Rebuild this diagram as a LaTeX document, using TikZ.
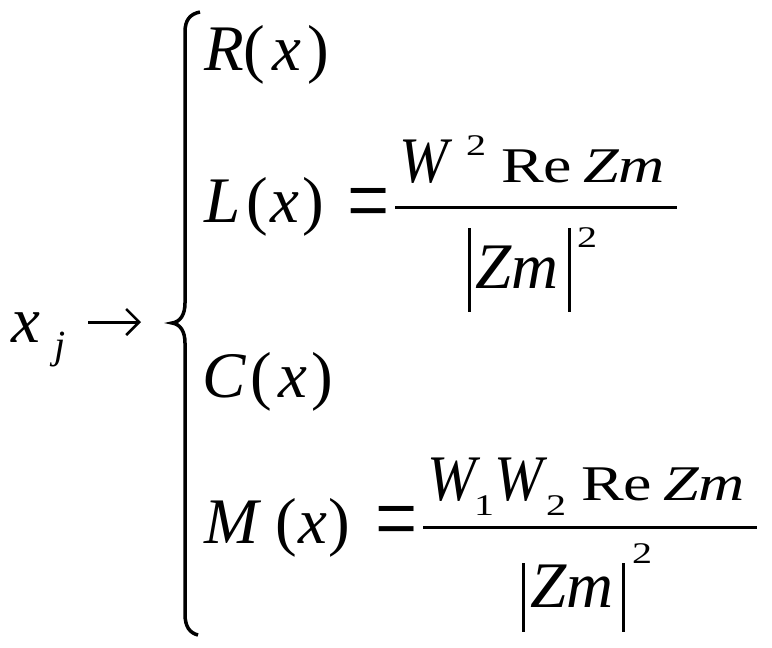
\documentclass[tikz,border=0pt]{standalone}
\usepackage{fontspec}
\setmainfont{Liberation Serif}
\usepackage{graphicx}
\usetikzlibrary{arrows.meta}

\newcommand{\digit}[1]{\scalebox{1}[0.75]{#1}}
\newcommand{\wide}[1]{\scalebox{1}[0.78]{#1}}
\newcommand{\narrowW}{\scalebox{0.9}[1]{\textit{W}}}

\begin{document}
\begin{tikzpicture}[x=1pt,y=-1pt,
    txt/.style={inner sep=0pt,outer sep=0pt,anchor=base west,font=\fontsize{65}{78}\selectfont},
    idx/.style={txt,font=\fontsize{40}{48}\selectfont},
    num/.style={txt,font=\fontsize{64}{77}\selectfont},
    bar/.style={line width=3pt},
    fracrule/.style={line width=3pt}]
  \useasboundingbox (0,0) rectangle (772,648);
  % left part
  \node[txt] (x) at (12,342) {\textit{x}};
  \node[txt,font=\fontsize{40}{48}\selectfont] (j) at (54,358) {\textit{j}};
  \coordinate (arrA) at (88,322);
  \coordinate (arrB) at (141,322);
  \draw[line width=3pt,-{Straight Barb[length=13pt,width=26pt,line width=2.5pt]}] (arrA) -- (arrB);
  % brace
  \draw[line width=3.5pt] (200,12) .. controls (190,14) and (185,20) .. (185,32) -- (185,303)
    .. controls (185,315) and (180,322) .. (172,323) .. controls (180,324) and (185,331) .. (185,343)
    -- (185,614) .. controls (185,627) and (190,633) .. (198,635);
  % rows
  \node[txt] (rowR) at (204,70) {\textit{R}(\kern7pt\textit{x}\kern6pt)};
  \node[txt] (rowL) at (204,222) {\textit{L}\kern6pt(\kern3pt\textit{x}\kern3pt)};
  \node[txt] (eqL) at (347,234) {\scalebox{1.15}[1.55]{=}};
  \node[txt] (rowC) at (202,397) {\textit{C}\kern5pt(\kern6pt\textit{x}\kern4pt)};
  \node[txt] (rowM) at (204,543) {\textit{M}\kern14pt(\kern2pt\textit{x}\kern1pt)};
  \node[txt] (eqM) at (375,552) {\scalebox{1.15}[1.55]{=}};
  % fraction of L
  \node[txt] (wL) at (399,182) {\narrowW};
  \node[idx] (wLsup) at (466,155) {\digit{2}};
  \node[num] (reL) at (501,182) {\wide{Re\kern11pt\textit{Zm}}};
  \coordinate (ruleLa) at (395,207);
  \coordinate (ruleLb) at (677,207);
  \draw[fracrule] (ruleLa) -- (ruleLb);
  \draw[bar] (469,228) -- (469,312);
  \draw[bar] (569,228) -- (569,312);
  \node[txt] (zmL) at (475,288) {\textit{Zm}};
  \node[idx] (zmLsup) at (577,247) {\digit{2}};
  % fraction of M
  \node[txt] (wA) at (427,500) {\narrowW};
  \node[idx] (wAsub) at (474,515) {\digit{1}};
  \node[txt] (wB) at (494,500) {\narrowW};
  \node[idx] (wBsub) at (546,515) {\digit{2}};
  \node[num] (reM) at (581,500) {\wide{Re\kern11pt\textit{Zm}}};
  \coordinate (ruleMa) at (423,527);
  \coordinate (ruleMb) at (757,527);
  \draw[fracrule] (ruleMa) -- (ruleMb);
  \draw[bar] (523,563) -- (523,632);
  \draw[bar] (623,563) -- (623,632);
  \node[txt] (zmM) at (530,607) {\textit{Zm}};
  \node[idx] (zmMsup) at (632,563) {\digit{2}};
\end{tikzpicture}
\end{document}
